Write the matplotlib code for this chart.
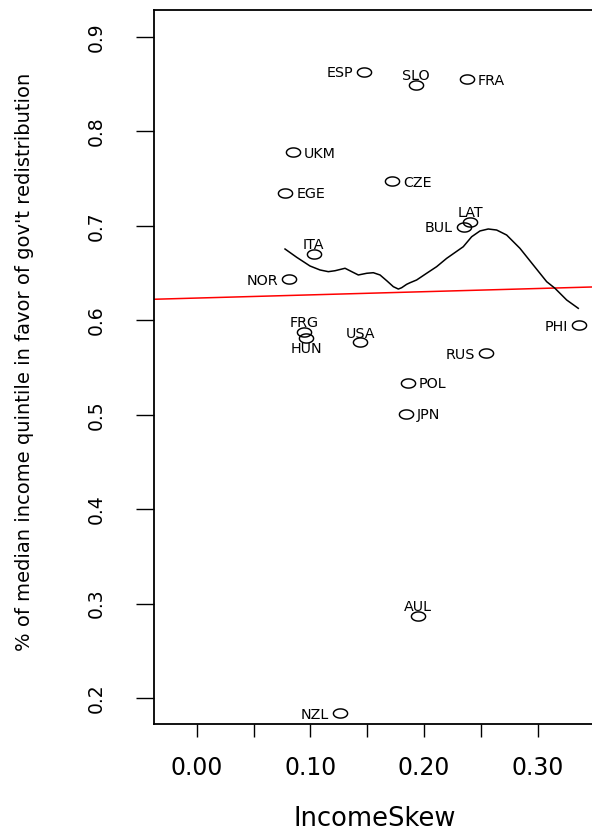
import numpy as np
import matplotlib
matplotlib.use("Agg")
import matplotlib.pyplot as plt
from matplotlib.path import Path

# Country codes, income skew and share of the median-income quintile favouring redistribution
countries = ["ESP", "SLO", "FRA", "UKM", "EGE", "CZE", "LAT", "BUL", "ITA", "NOR",
             "FRG", "HUN", "USA", "PHI", "RUS", "POL", "JPN", "AUL", "NZL"]
income_skew = [0.147, 0.193, 0.2375, 0.085, 0.078, 0.172, 0.2405, 0.235, 0.103, 0.0815,
               0.0945, 0.0965, 0.144, 0.336, 0.2545, 0.186, 0.1845, 0.195, 0.126]
pct_favor = [0.863, 0.849, 0.8555, 0.778, 0.735, 0.747, 0.704, 0.699, 0.670, 0.6435,
             0.5875, 0.5815, 0.5765, 0.5945, 0.565, 0.534, 0.501, 0.287, 0.184]
label_side = ["left", "above", "right", "right", "right", "right", "above", "left", "above", "left",
              "above", "below", "above", "left", "left", "right", "right", "above", "left"]

# Local smoother through the scatter
smooth_x = [0.0777, 0.0880, 0.0997, 0.1085, 0.1158, 0.1217, 0.1305, 0.1364, 0.1422, 0.1496,
            0.1554, 0.1613, 0.1672, 0.1730, 0.1774, 0.1803, 0.1847, 0.1877, 0.1935, 0.2023,
            0.2111, 0.2199, 0.2345, 0.2419, 0.2492, 0.2565, 0.2639, 0.2727, 0.2844, 0.2961,
            0.3079, 0.3152, 0.3255, 0.3357]
smooth_y = [0.6755, 0.6667, 0.6575, 0.6533, 0.6515, 0.6525, 0.6551, 0.6515, 0.6480, 0.6498,
            0.6504, 0.6480, 0.6419, 0.6356, 0.6331, 0.6345, 0.6381, 0.6398, 0.6427, 0.6498,
            0.6568, 0.6656, 0.6779, 0.6885, 0.6946, 0.6967, 0.6956, 0.6903, 0.6762, 0.6586,
            0.6409, 0.6339, 0.6215, 0.6127]

x_ticks = [0.00, 0.05, 0.10, 0.15, 0.20, 0.25, 0.30]
x_ticklabels = ["0.00", "", "0.10", "", "0.20", "", "0.30"]
y_ticks = [0.2, 0.3, 0.4, 0.5, 0.6, 0.7, 0.8, 0.9]
y_ticklabels = ["0.2", "0.3", "0.4", "0.5", "0.6", "0.7", "0.8", "0.9"]

plt.rcParams["font.family"] = ["DejaVu Sans"]

W, H = 592, 836
fig = plt.figure(figsize=(W / 100, H / 100), dpi=100)
ax = fig.add_axes([154 / W, 112 / H, 442 / W, 714 / H])
ax.set_xlim(-0.03757, 0.3513)
ax.set_ylim(0.1725, 0.9286)

# Open-ellipse point symbol
t = np.linspace(0, 2 * np.pi, 120)
ellipse = Path(np.column_stack([1.55 * np.cos(t), np.sin(t)]), closed=True)

ax.plot(income_skew, pct_favor, linestyle="none", marker=ellipse, markersize=10.2,
        markerfacecolor="none", markeredgecolor="black", markeredgewidth=1.05, zorder=3)

# Least-squares line
slope, intercept = np.polyfit(income_skew, pct_favor, 1)
ax.axline((0.0, intercept), slope=slope, color="red", linewidth=1.1, zorder=2)

# Smoothed trend
ax.plot(smooth_x, smooth_y, color="black", linewidth=1.1, zorder=2)

offsets = {"left": (-7.8, 0, "right"), "right": (7.8, 0, "left"),
           "above": (0, 7.4, "center"), "below": (0, -7.0, "center")}
for name, xv, yv, side in zip(countries, income_skew, pct_favor, label_side):
    dx, dy, ha = offsets[side]
    ax.annotate(name, (xv, yv), xytext=(dx, dy), textcoords="offset points",
                ha=ha, va="center_baseline", fontsize=10.3, color="black")

ax.set_xticks(x_ticks)
ax.set_xticklabels(x_ticklabels, fontsize=17)
ax.set_yticks(y_ticks)
ax.set_yticklabels(y_ticklabels, fontsize=13.5, rotation=90, va="center")

ax.tick_params(axis="x", direction="out", length=9, width=1.0, pad=14)
ax.tick_params(axis="y", direction="out", length=13, width=1.0, pad=22)

for side in ["left", "top", "bottom"]:
    ax.spines[side].set_linewidth(1.3)
ax.spines["right"].set_visible(False)

ax.set_xlabel("IncomeSkew", fontsize=18.5, labelpad=19)
ax.set_ylabel("% of median income quintile in favor of gov't redistribution",
              fontsize=14.0, va="center")
ax.yaxis.set_label_coords(-129 / 442, (367 - 361.5) / 714 + 0.5)

fig.savefig("out.png", dpi=100)
